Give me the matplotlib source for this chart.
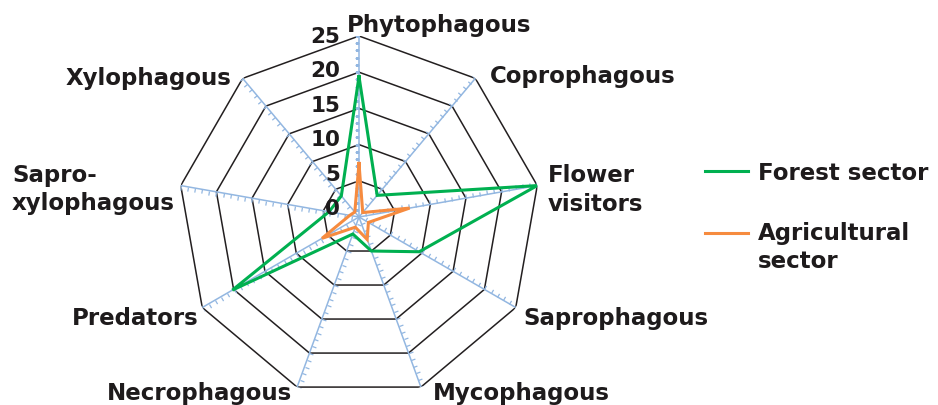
import numpy as np
import matplotlib
matplotlib.use("Agg")
import matplotlib.pyplot as plt
from matplotlib.markers import MarkerStyle
from matplotlib.path import Path
from matplotlib.transforms import Affine2D
from matplotlib.lines import Line2D

# ---------------- data ----------------
categories = ["Phytophagous", "Coprophagous", "Flower\nvisitors", "Saprophagous",
              "Mycophagous", "Necrophagous", "Predators", "Sapro-\nxylophagous",
              "Xylophagous"]
forest = [19.4, 3.9, 25.0, 9.6, 5.0, 2.5, 20.2, 4.2, 3.8]
agricultural = [7.4, 0.8, 7.1, 1.5, 3.3, 1.5, 5.9, 1.3, 0.9]
series_names = ["Forest sector", "Agricultural\nsector"]
ring_values = [5, 10, 15, 20, 25]
tick_values = [0, 5, 10, 15, 20, 25]
tick_labels = ["0", "5", "10", "15", "20", "25"]

# ---------------- style ----------------
GREEN = "#00b050"
ORANGE = "#f68b3f"
RING = "#231f20"
SPOKE = "#93b7e1"
TEXT = "#1e1b1c"
FONT = "DejaVu Sans"

W, H = 938, 406
fig = plt.figure(figsize=(W / 100, H / 100), dpi=100)
cx, cy, R = 359, 218, 181
ax = fig.add_axes([(cx - R) / W, (H - cy - R) / H, 2 * R / W, 2 * R / H],
                  projection="polar")
ax.set_theta_offset(np.pi / 2)
ax.set_theta_direction(-1)
ax.set_ylim(0, 25)
ax.set_axis_off()

n = len(categories)
theta = np.arange(n) * 2 * np.pi / n
theta_closed = np.append(theta, theta[0])

# rings (nonagons)
for rv in ring_values:
    ax.plot(theta_closed, [rv] * (n + 1), color=RING, lw=1.1, zorder=1)

# spokes with small tick marks
tick_path = Path([(0, 0), (1, 0)])
minor_r = np.arange(1, 26)
for i, t in enumerate(theta):
    ax.plot([t, t], [0, 25], color=SPOKE, lw=1.1, zorder=2)
    disp_angle = 90 - i * 360 / n
    mk = MarkerStyle(tick_path, transform=Affine2D().rotate_deg(disp_angle + 90))
    ax.plot([t] * len(minor_r), minor_r, linestyle="none", marker=mk,
            markersize=6, markeredgecolor=SPOKE, markerfacecolor="none",
            markeredgewidth=0.9, zorder=2)

# series
ax.plot(theta_closed, forest + [forest[0]], color=GREEN, lw=2.2, zorder=4,
        solid_joinstyle="miter")
ax.plot(theta_closed, agricultural + [agricultural[0]], color=ORANGE, lw=2.2,
        zorder=5, solid_joinstyle="miter")

# radial tick labels
for v, lab in zip(tick_values, tick_labels):
    ax.annotate(lab, xy=(0, v), xytext=(-19, 0.36 * (25 - v)),
                textcoords="offset pixels", ha="right", va="center",
                fontsize=15.5, fontweight="bold", color=TEXT, family=FONT,
                annotation_clip=False, zorder=6)

# category labels: (dx, dy, ha) offsets of the last line's baseline from the outer vertex
label_pos = [(-12, 5.3, "left"), (14.7, -3.9, "left"), (10.7, -24.1, "left"),
             (7.6, -16.5, "left"), (12, -12, "left"), (-5.4, -12, "right"),
             (-3.9, -16.5, "right"), (-5.8, -23.6, "right"), (-11, -5.6, "right")]
for t, lab, (dx, dy, ha) in zip(theta, categories, label_pos):
    ax.annotate(lab, xy=(t, 25), xytext=(dx, dy), textcoords="offset pixels",
                ha=ha, va="baseline", multialignment="left", linespacing=1.3,
                fontsize=16.5, fontweight="bold", color=TEXT, family=FONT,
                annotation_clip=False)

# legend (manual)
legend_y = [171.7, 234]
legend_base = [180, 268.3]
for name, col, ly, lb in zip(series_names, [GREEN, ORANGE], legend_y, legend_base):
    fig.add_artist(Line2D([705 / W, 748 / W], [1 - ly / H, 1 - ly / H],
                          transform=fig.transFigure, color=col, lw=2.2))
    fig.text(758 / W, 1 - lb / H, name, ha="left", va="baseline",
             linespacing=1.3, fontsize=16.5, fontweight="bold", color=TEXT,
             family=FONT)

fig.savefig("out.png", dpi=100, facecolor="white")
